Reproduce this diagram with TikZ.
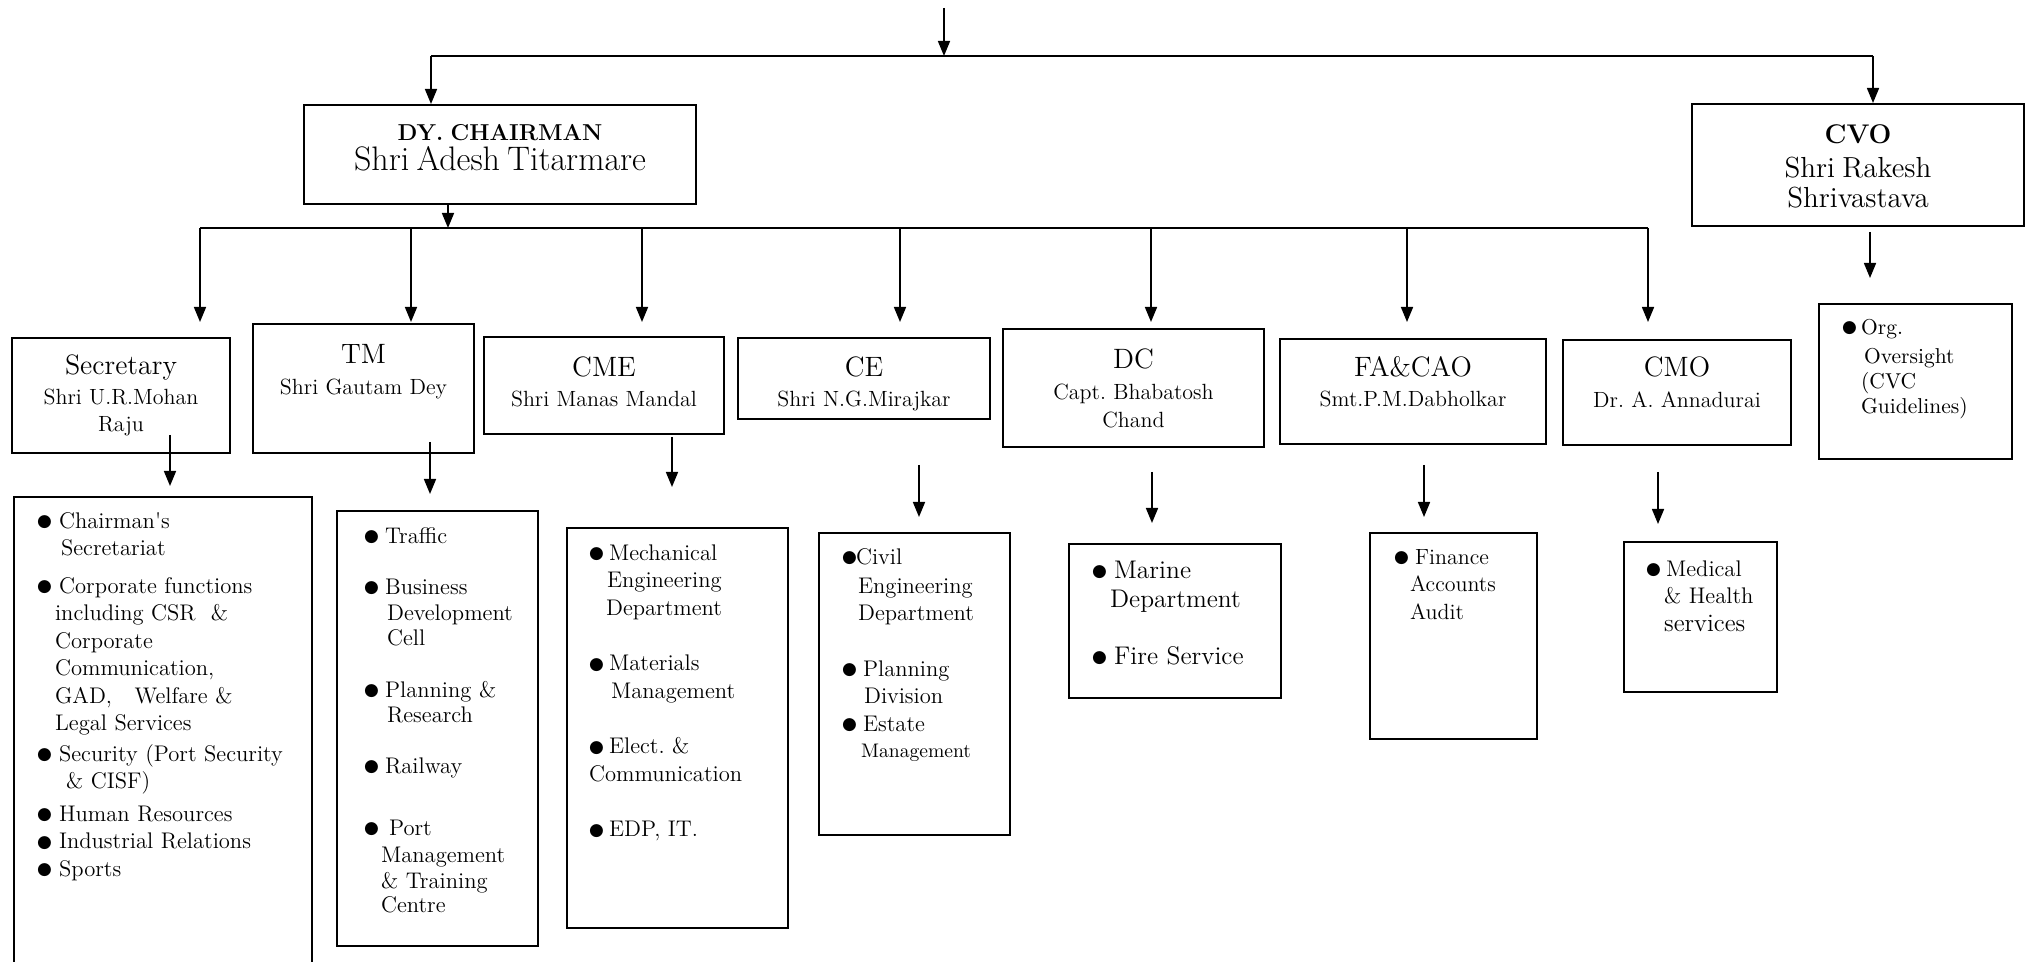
\documentclass[tikz,border=0pt]{standalone}
\usepackage{fontspec}
\newfontfamily\symf{DejaVu Sans}
\usetikzlibrary{positioning,arrows.meta}
\newcommand{\bul}[1][11pt]{\makebox[#1][l]{\raisebox{0.7pt}{\symf\fontsize{8.5}{8.5}\selectfont ●}}}
\frenchspacing

\begin{document}
\begin{tikzpicture}[
  x=0.5pt, y=-0.5pt,
  unit/.style={draw, line width=1.1pt, inner sep=0pt, anchor=north, align=center,
    font={\fontsize{11}{15}\selectfont}},
  duty/.style={draw, line width=1.1pt, inner sep=0pt, anchor=north west, align=left,
    font={\fontsize{11.3}{13.75}\selectfont}, execute at begin node={\leftskip=#1\relax}},
  duty/.default=11.5pt,
  arr/.style={-{Triangle[length=7.5pt,width=6pt]}, line width=0.8pt},
  link/.style={line width=1.1pt}
]
\useasboundingbox (0,0) rectangle (2026,962);
\clip (0,0) rectangle (2026,962);

\coordinate (root) at (944,8);
\coordinate (busL) at (431,56);
\coordinate (busR) at (1873,56);
\coordinate (bus2L) at (200,228);
\coordinate (bus2R) at (1648,228);

\node[unit, text width=196pt, text height=17.5pt, text depth=32pt] (dy) at (500,104)
  {\fontsize{11.5}{18}\selectfont\bfseries DY. CHAIRMAN\\
   \fontsize{17}{18}\selectfont\mdseries Shri Adesh Titarmare};
\node[unit, text width=166pt, text height=19.5pt, text depth=41.5pt] (cvo) at (1858,103)
  {\fontsize{13.5}{17.25}\selectfont\bfseries CVO\\
   \fontsize{14.5}{17.25}\selectfont\mdseries Shri Rakesh\\ Shrivastava};

\node[unit, text width=109pt, text height=18pt, text depth=39.5pt] (sec) at (121,337)
  {{\fontsize{14}{15}\selectfont Secretary}\\ Shri U.R.Mohan\\[-1.5pt] Raju};
\node[unit, text width=110.5pt, text height=19.5pt, text depth=45pt] (tm) at (363.5,323)
  {{\fontsize{14}{15}\selectfont TM}\\[0.5pt] Shri Gautam Dey};
\node[unit, text width=120pt, text height=19.5pt, text depth=29pt] (cme) at (604,336)
  {{\fontsize{14}{15}\selectfont CME}\\ Shri Manas Mandal};
\node[unit, text width=126pt, text height=19pt, text depth=21.5pt] (ce) at (864,337)
  {{\fontsize{14}{15}\selectfont CE}\\ Shri N.G.Mirajkar};
\node[unit, text width=130.5pt, text height=19.5pt, text depth=39.5pt] (dc) at (1133.5,328)
  {{\fontsize{14}{15}\selectfont DC}\\[0.5pt] Capt. Bhabatosh\\[-1pt] Chand};
\node[unit, text width=133pt, text height=18.5pt, text depth=34pt] (fa) at (1413,338)
  {{\fontsize{14}{15}\selectfont FA\&CAO}\\ Smt.P.M.Dabholkar};
\node[unit, text width=114pt, text height=18pt, text depth=34.5pt] (cmo) at (1677,339)
  {{\fontsize{14}{15}\selectfont CMO}\\[0.5pt] Dr. A. Annadurai};

\node[duty, text width=149pt, text height=15.5pt, text depth=224pt] (secduty) at (13,496)
  {\bul Chairman\textquotesingle s\\
   \hspace*{12pt}Secretariat\\[5pt]
   \bul Corporate functions\\
   \hspace*{9pt}including CSR\ \ \&\\
   \hspace*{9pt}Corporate\\
   \hspace*{9pt}Communication,\\
   \hspace*{9pt}GAD,\ \ \ Welfare \&\\
   \hspace*{9pt}Legal Services\\[1.5pt]
   \bul Security (Port Security\\
   \hspace*{14.5pt}\& CISF)\\[2.5pt]
   \bul Human Resources\\
   \bul Industrial Relations\\
   \bul Sports};
\node[duty=13.5pt, text width=100.5pt, text height=16pt, text depth=201.5pt,
  font={\fontsize{11.3}{13}\selectfont}] (tmduty) at (336,510)
  {\bul[10.5pt]Traffic\\[12.5pt]
   \bul[10.5pt]Business\\
   \hspace*{11.5pt}Development\\[-0.5pt]
   \hspace*{11.5pt}Cell\\[13pt]
   \bul[10.5pt]Planning \&\\[-0.5pt]
   \hspace*{11.5pt}Research\\[12.5pt]
   \bul[10.5pt]Railway\\[18pt]
   \bul[12.5pt]Port\\[0.5pt]
   \hspace*{8.5pt}Management\\
   \hspace*{8.5pt}\& Training\\[-1pt]
   \hspace*{8.5pt}Centre};
\node[duty=11pt, text width=110.5pt, text height=16pt, text depth=184pt] (cmeduty) at (566,527)
  {\bul[10pt]Mechanical\\
   \hspace*{9pt}Engineering\\
   \hspace*{8.5pt}Department\\[14pt]
   \bul[10pt]Materials\\
   \hspace*{11pt}Management\\[14pt]
   \bul[10pt]Elect. \&\\
   Communication\\[14pt]
   \bul[10pt]EDP, IT.};
\node[duty, text width=95.5pt, text height=15.5pt, text depth=135.5pt] (ceduty) at (818,532)
  {\bul[7pt]Civil\\[0.75pt]
   \hspace*{8pt}Engineering\\
   \hspace*{8pt}Department\\[14pt]
   \bul[10.5pt]Planning\\
   \hspace*{11pt}Division\\
   \bul[10.5pt]Estate\\[-0.75pt]
   \hspace*{9.5pt}{\fontsize{9.8}{12}\selectfont Management}};
\node[duty, text width=106pt, text height=17pt, text depth=60pt,
  font={\fontsize{12.75}{14.5}\selectfont}] (dcduty) at (1068,543)
  {\bul Marine\\
   \hspace*{9pt}Department\\[14pt]
   \bul Fire Service};
\node[duty=12pt, text width=83.5pt, text height=15.5pt, text depth=87.5pt,
  font={\fontsize{11}{13.75}\selectfont}] (faduty) at (1369,532)
  {\bul[10.5pt]Finance\\
   \hspace*{8pt}Accounts\\
   \hspace*{8pt}Audit};
\node[duty=11pt, text width=76.5pt, text height=17pt, text depth=58pt] (cmoduty) at (1623,541)
  {\bul[10pt]Medical\\
   \hspace*{9pt}\& Health\\
   \hspace*{9pt}{\fontsize{12.5}{14}\selectfont services}};
\node[duty, text width=96.5pt, text height=15pt, text depth=62.5pt,
  font={\fontsize{10.75}{13}\selectfont}] (orgduty) at (1818,303)
  {\bul[9.5pt]Org.\\[1.5pt]
   \hspace*{11pt}Oversight\\[-0.5pt]
   \hspace*{9.5pt}(CVC\\[-0.5pt]
   \hspace*{9.5pt}Guidelines)};

\draw[arr] (root) -- (root |- busL);
\draw[link] (busL) -- (busR);
\draw[arr] (busL) -- (busL |- dy.north);
\draw[arr] (busR) -- (busR |- cvo.north);
\draw[arr] ([xshift=-26pt]dy.south) -- ([xshift=-26pt]dy.south |- bus2L);
\draw[link] (bus2L) -- (bus2R);
\foreach \x in {200,411,642,900,1151,1407,1648}
  \draw[arr] (\x,228) -- (\x,322);
\foreach \x/\a/\b in {170/435/486, 430/442/494, 672/437/487, 919/465/517,
    1152/472/523, 1424/465/517, 1658/472/524, 1870/232/278}
  \draw[arr] (\x,\a) -- (\x,\b);
\end{tikzpicture}
\end{document}
